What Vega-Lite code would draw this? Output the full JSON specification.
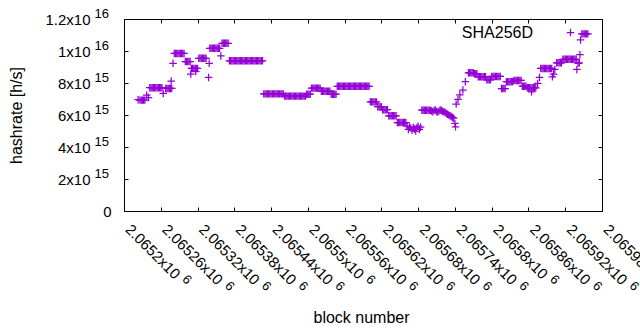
{
"$schema": "https://vega.github.io/schema/vega-lite/v6.json",
"width": 478, "height": 192,
"autosize": {"type": "none"},
"padding": {"left": 124, "top": 19, "right": 38, "bottom": 119},
"background": "white",
"config": {
  "view": {"stroke": null},
  "font": "Liberation Sans",
  "axis": {"grid": false, "labelColor": "#000000", "titleColor": "#000000", "domainColor": "#000000", "tickColor": "#000000", "labelFont": "Liberation Sans", "titleFont": "Liberation Sans", "titleFontWeight": "normal", "labelFlush": false, "labelOverlap": false, "labelBound": false, "domainWidth": 1, "tickWidth": 1}
},
"resolve": {"axis": {"x": "independent", "y": "independent"}},
"layer": [
{
"data": {"values": [
{"b":2065223,"h":6.96e15},{"b":2065226,"h":6.93e15},{"b":2065228,"h":6.93e15},{"b":2065230,"h":6.93e15},{"b":2065232,"h":6.93e15},{"b":2065234,"h":6.93e15},{"b":2065237,"h":7.24e15},{"b":2065240,"h":7.09e15},
{"b":2065242,"h":7.71e15},{"b":2065244,"h":7.71e15},{"b":2065246,"h":7.71e15},{"b":2065248,"h":7.71e15},{"b":2065250,"h":7.71e15},{"b":2065252,"h":7.71e15},{"b":2065254,"h":7.71e15},{"b":2065256,"h":7.71e15},{"b":2065258,"h":7.71e15},{"b":2065260,"h":7.71e15},{"b":2065262,"h":7.71e15},
{"b":2065264,"h":7.35e15},
{"b":2065268,"h":7.66e15},{"b":2065270,"h":7.66e15},{"b":2065272,"h":7.66e15},{"b":2065274,"h":7.66e15},{"b":2065276,"h":7.66e15},{"b":2065278,"h":7.66e15},
{"b":2065277,"h":8.12e15},{"b":2065280,"h":9.23e15},
{"b":2065282,"h":9.85e15},{"b":2065284,"h":9.85e15},{"b":2065286,"h":9.85e15},{"b":2065288,"h":9.85e15},{"b":2065290,"h":9.85e15},{"b":2065292,"h":9.85e15},{"b":2065294,"h":9.85e15},{"b":2065296,"h":9.85e15},{"b":2065298,"h":9.85e15},
{"b":2065300,"h":9.34e15},{"b":2065302,"h":9.34e15},{"b":2065304,"h":9.34e15},{"b":2065306,"h":9.34e15},{"b":2065308,"h":9.34e15},
{"b":2065309,"h":8.56e15},
{"b":2065310,"h":8.91e15},{"b":2065312,"h":8.91e15},{"b":2065314,"h":8.91e15},{"b":2065316,"h":8.91e15},{"b":2065318,"h":8.91e15},{"b":2065320,"h":8.91e15},{"b":2065317,"h":8.72e15},
{"b":2065322,"h":9.54e15},{"b":2065324,"h":9.54e15},{"b":2065326,"h":9.54e15},{"b":2065328,"h":9.54e15},{"b":2065330,"h":9.54e15},{"b":2065332,"h":9.54e15},{"b":2065334,"h":9.54e15},
{"b":2065338,"h":8.35e15},{"b":2065339,"h":9.23e15},
{"b":2065340,"h":1.017e16},{"b":2065342,"h":1.017e16},{"b":2065344,"h":1.017e16},{"b":2065346,"h":1.017e16},{"b":2065348,"h":1.017e16},{"b":2065350,"h":1.017e16},{"b":2065352,"h":1.017e16},{"b":2065354,"h":1.017e16},{"b":2065356,"h":1.017e16},
{"b":2065358,"h":9.69e15},
{"b":2065360,"h":1.048e16},{"b":2065362,"h":1.048e16},{"b":2065364,"h":1.048e16},{"b":2065366,"h":1.048e16},{"b":2065368,"h":1.048e16},{"b":2065370,"h":1.048e16},
{"b":2065372,"h":9.39e15},{"b":2065374,"h":9.39e15},{"b":2065376,"h":9.39e15},{"b":2065378,"h":9.39e15},{"b":2065380,"h":9.39e15},{"b":2065382,"h":9.39e15},{"b":2065384,"h":9.39e15},{"b":2065386,"h":9.39e15},{"b":2065388,"h":9.39e15},{"b":2065390,"h":9.39e15},{"b":2065392,"h":9.39e15},{"b":2065394,"h":9.39e15},{"b":2065396,"h":9.39e15},{"b":2065398,"h":9.39e15},{"b":2065400,"h":9.39e15},{"b":2065402,"h":9.39e15},{"b":2065404,"h":9.39e15},{"b":2065406,"h":9.39e15},{"b":2065408,"h":9.39e15},{"b":2065410,"h":9.39e15},{"b":2065412,"h":9.39e15},{"b":2065414,"h":9.39e15},{"b":2065416,"h":9.39e15},{"b":2065418,"h":9.39e15},{"b":2065420,"h":9.39e15},{"b":2065422,"h":9.39e15},{"b":2065424,"h":9.39e15},{"b":2065426,"h":9.39e15},
{"b":2065428,"h":7.32e15},{"b":2065430,"h":7.32e15},{"b":2065432,"h":7.32e15},{"b":2065434,"h":7.32e15},{"b":2065436,"h":7.32e15},{"b":2065438,"h":7.32e15},{"b":2065440,"h":7.32e15},{"b":2065442,"h":7.32e15},{"b":2065444,"h":7.32e15},{"b":2065446,"h":7.32e15},{"b":2065448,"h":7.32e15},{"b":2065450,"h":7.32e15},{"b":2065452,"h":7.32e15},{"b":2065454,"h":7.32e15},{"b":2065456,"h":7.32e15},{"b":2065458,"h":7.32e15},{"b":2065460,"h":7.32e15},
{"b":2065462,"h":7.18e15},{"b":2065464,"h":7.18e15},{"b":2065466,"h":7.18e15},{"b":2065468,"h":7.18e15},{"b":2065470,"h":7.18e15},{"b":2065472,"h":7.18e15},{"b":2065474,"h":7.18e15},{"b":2065476,"h":7.18e15},{"b":2065478,"h":7.18e15},{"b":2065480,"h":7.18e15},{"b":2065482,"h":7.18e15},{"b":2065484,"h":7.18e15},{"b":2065486,"h":7.18e15},{"b":2065488,"h":7.18e15},{"b":2065490,"h":7.18e15},{"b":2065492,"h":7.18e15},{"b":2065494,"h":7.18e15},{"b":2065496,"h":7.18e15},
{"b":2065498,"h":7.3e15},{"b":2065500,"h":7.3e15},{"b":2065502,"h":7.3e15},{"b":2065504,"h":7.3e15},
{"b":2065506,"h":7.68e15},{"b":2065508,"h":7.68e15},{"b":2065510,"h":7.68e15},{"b":2065512,"h":7.68e15},{"b":2065514,"h":7.68e15},{"b":2065516,"h":7.68e15},{"b":2065518,"h":7.68e15},{"b":2065520,"h":7.68e15},
{"b":2065522,"h":7.49e15},{"b":2065524,"h":7.49e15},{"b":2065526,"h":7.49e15},{"b":2065528,"h":7.49e15},{"b":2065530,"h":7.49e15},{"b":2065532,"h":7.49e15},{"b":2065534,"h":7.49e15},{"b":2065536,"h":7.49e15},
{"b":2065538,"h":7.3e15},{"b":2065540,"h":7.3e15},{"b":2065542,"h":7.3e15},{"b":2065544,"h":7.3e15},{"b":2065546,"h":7.3e15},
{"b":2065548,"h":7.79e15},{"b":2065550,"h":7.79e15},{"b":2065552,"h":7.79e15},{"b":2065554,"h":7.79e15},{"b":2065556,"h":7.79e15},{"b":2065558,"h":7.79e15},{"b":2065560,"h":7.79e15},{"b":2065562,"h":7.79e15},{"b":2065564,"h":7.79e15},{"b":2065566,"h":7.79e15},{"b":2065568,"h":7.79e15},{"b":2065570,"h":7.79e15},{"b":2065572,"h":7.79e15},{"b":2065574,"h":7.79e15},{"b":2065576,"h":7.79e15},{"b":2065578,"h":7.79e15},{"b":2065580,"h":7.79e15},{"b":2065582,"h":7.79e15},{"b":2065584,"h":7.79e15},{"b":2065586,"h":7.79e15},{"b":2065588,"h":7.79e15},{"b":2065590,"h":7.79e15},{"b":2065592,"h":7.79e15},{"b":2065594,"h":7.79e15},{"b":2065596,"h":7.79e15},{"b":2065598,"h":7.79e15},{"b":2065600,"h":7.79e15},
{"b":2065602,"h":6.82e15},{"b":2065604,"h":6.82e15},{"b":2065606,"h":6.82e15},{"b":2065608,"h":6.82e15},{"b":2065610,"h":6.82e15},{"b":2065612,"h":6.82e15},
{"b":2065614,"h":6.52e15},{"b":2065616,"h":6.52e15},{"b":2065618,"h":6.52e15},{"b":2065620,"h":6.52e15},
{"b":2065622,"h":6.33e15},{"b":2065624,"h":6.33e15},{"b":2065626,"h":6.33e15},{"b":2065628,"h":6.33e15},{"b":2065630,"h":6.33e15},
{"b":2065632,"h":5.95e15},{"b":2065634,"h":5.95e15},{"b":2065636,"h":5.95e15},{"b":2065638,"h":5.95e15},{"b":2065640,"h":5.95e15},{"b":2065642,"h":5.95e15},{"b":2065644,"h":5.95e15},
{"b":2065646,"h":5.53e15},{"b":2065648,"h":5.53e15},{"b":2065650,"h":5.53e15},{"b":2065652,"h":5.53e15},{"b":2065654,"h":5.53e15},{"b":2065656,"h":5.53e15},{"b":2065658,"h":5.53e15},{"b":2065660,"h":5.53e15},
{"b":2065662,"h":5.3e15},{"b":2065664,"h":5.1e15},{"b":2065666,"h":5.25e15},{"b":2065668,"h":5.18e15},{"b":2065670,"h":5.05e15},{"b":2065672,"h":5.22e15},{"b":2065674,"h":5.12e15},{"b":2065676,"h":5.0e15},{"b":2065678,"h":5.2e15},{"b":2065680,"h":5.3e15},{"b":2065682,"h":5.1e15},{"b":2065684,"h":5.24e15},
{"b":2065686,"h":6.3e15},{"b":2065688,"h":6.3e15},{"b":2065690,"h":6.3e15},{"b":2065692,"h":6.3e15},{"b":2065694,"h":6.3e15},{"b":2065696,"h":6.3e15},{"b":2065698,"h":6.3e15},
{"b":2065700,"h":6.3e15},{"b":2065702,"h":6.25e15},{"b":2065704,"h":6.2e15},{"b":2065706,"h":6.28e15},{"b":2065708,"h":6.32e15},{"b":2065710,"h":6.22e15},{"b":2065712,"h":6.18e15},{"b":2065714,"h":6.25e15},{"b":2065716,"h":6.3e15},{"b":2065718,"h":6.3e15},{"b":2065720,"h":6.22e15},{"b":2065722,"h":6.2e15},{"b":2065724,"h":6.15e15},
{"b":2065726,"h":6.1e15},{"b":2065728,"h":6.05e15},{"b":2065730,"h":6.0e15},{"b":2065732,"h":5.95e15},{"b":2065734,"h":5.9e15},{"b":2065736,"h":5.85e15},{"b":2065738,"h":5.8e15},
{"b":2065740,"h":5.47e15},{"b":2065741,"h":5.26e15},{"b":2065742,"h":6.68e15},{"b":2065745,"h":6.97e15},{"b":2065748,"h":7.26e15},{"b":2065753,"h":7.56e15},{"b":2065757,"h":8.08e15},
{"b":2065762,"h":8.64e15},{"b":2065764,"h":8.64e15},{"b":2065766,"h":8.64e15},{"b":2065768,"h":8.64e15},{"b":2065770,"h":8.64e15},
{"b":2065772,"h":8.58e15},{"b":2065774,"h":8.58e15},{"b":2065776,"h":8.58e15},
{"b":2065778,"h":8.39e15},{"b":2065780,"h":8.39e15},{"b":2065782,"h":8.39e15},{"b":2065784,"h":8.39e15},{"b":2065786,"h":8.39e15},{"b":2065788,"h":8.39e15},{"b":2065790,"h":8.39e15},
{"b":2065792,"h":8.2e15},{"b":2065794,"h":8.2e15},{"b":2065796,"h":8.2e15},{"b":2065798,"h":8.2e15},
{"b":2065800,"h":8.41e15},{"b":2065802,"h":8.41e15},{"b":2065804,"h":8.41e15},{"b":2065806,"h":8.41e15},{"b":2065808,"h":8.41e15},{"b":2065810,"h":8.41e15},{"b":2065812,"h":8.41e15},{"b":2065814,"h":8.41e15},
{"b":2065816,"h":7.65e15},{"b":2065818,"h":7.65e15},{"b":2065820,"h":7.65e15},{"b":2065822,"h":7.65e15},
{"b":2065824,"h":8.08e15},{"b":2065826,"h":8.08e15},{"b":2065828,"h":8.08e15},{"b":2065830,"h":8.08e15},{"b":2065832,"h":8.08e15},{"b":2065834,"h":8.08e15},
{"b":2065836,"h":8.16e15},{"b":2065838,"h":8.16e15},{"b":2065840,"h":8.16e15},{"b":2065842,"h":8.16e15},{"b":2065844,"h":8.16e15},{"b":2065846,"h":8.16e15},{"b":2065848,"h":8.16e15},
{"b":2065850,"h":7.8e15},{"b":2065852,"h":7.8e15},{"b":2065854,"h":7.8e15},{"b":2065856,"h":7.8e15},
{"b":2065858,"h":7.7e15},{"b":2065860,"h":7.7e15},{"b":2065862,"h":7.7e15},{"b":2065864,"h":7.7e15},{"b":2065866,"h":7.7e15},{"b":2065868,"h":7.7e15},{"b":2065870,"h":7.7e15},{"b":2065872,"h":7.7e15},
{"b":2065865,"h":7.45e15},{"b":2065875,"h":7.97e15},{"b":2065878,"h":8.35e15},
{"b":2065880,"h":8.91e15},{"b":2065882,"h":8.91e15},{"b":2065884,"h":8.91e15},{"b":2065886,"h":8.91e15},{"b":2065888,"h":8.91e15},{"b":2065890,"h":8.91e15},{"b":2065892,"h":8.91e15},{"b":2065894,"h":8.91e15},{"b":2065896,"h":8.91e15},{"b":2065898,"h":8.91e15},
{"b":2065899,"h":8.39e15},{"b":2065901,"h":8.56e15},{"b":2065903,"h":8.85e15},
{"b":2065906,"h":9.26e15},{"b":2065908,"h":9.26e15},{"b":2065910,"h":9.26e15},{"b":2065912,"h":9.26e15},{"b":2065914,"h":9.26e15},
{"b":2065916,"h":9.48e15},{"b":2065918,"h":9.48e15},{"b":2065920,"h":9.48e15},{"b":2065922,"h":9.48e15},{"b":2065924,"h":9.48e15},{"b":2065926,"h":9.48e15},{"b":2065928,"h":9.48e15},{"b":2065930,"h":9.48e15},{"b":2065932,"h":9.48e15},{"b":2065934,"h":9.48e15},{"b":2065936,"h":9.48e15},{"b":2065938,"h":9.48e15},
{"b":2065939,"h":8.85e15},{"b":2065941,"h":9.23e15},{"b":2065943,"h":9.26e15},{"b":2065944,"h":9.77e15},{"b":2065945,"h":1.069e16},
{"b":2065947,"h":1.107e16},{"b":2065949,"h":1.107e16},{"b":2065951,"h":1.107e16},{"b":2065953,"h":1.107e16},{"b":2065955,"h":1.107e16},{"b":2065957,"h":1.107e16}
]},
"mark": {"type": "point", "shape": "M-1,0H1M0,-1V1", "filled": false, "size": 56, "strokeWidth": 1.25, "opacity": 1},
"encoding": {
  "x": {"field": "b", "type": "quantitative", "scale": {"domain": [2065200, 2065980], "nice": false, "zero": false},
        "axis": {"orient": "bottom", "values": [2065200,2065260,2065320,2065380,2065440,2065500,2065560,2065620,2065680,2065740,2065800,2065860,2065920,2065980], "labelExpr": "datum.value/1000000 + 'x10'", "labelAngle": 45, "labelAlign": "left", "labelBaseline": "alphabetic", "labelPadding": 19, "labelFontSize": 15, "ticks": false, "domain": false, "title": "block number", "titleFontSize": 16, "titleX": 237, "titleY": 111, "titleBaseline": "alphabetic", "titleAlign": "center"}},
  "y": {"field": "h", "type": "quantitative", "scale": {"domain": [0, 1.2e16], "nice": false, "zero": true},
        "axis": {"orient": "left", "values": [2e15,4e15,6e15,8e15,1e16,1.2e16], "labelExpr": "datum.value >= 1e16 ? (datum.value/1e16) + 'x10' : (datum.value/1e15) + 'x10'", "labelAlign": "right", "labelBaseline": "middle", "labelPadding": 34, "labelFontSize": 15, "ticks": false, "domain": false, "title": "hashrate [h/s]", "titleFontSize": 16, "titleX": -103, "titleY": 96, "titleBaseline": "alphabetic", "titleAngle": -90, "titleAlign": "center"}},
  "color": {"datum": "SHA256D", "type": "nominal", "scale": {"range": ["#9400d3"]},
        "legend": {"orient": "none", "legendX": 438.5, "legendY": 5.5, "title": null, "padding": 0, "labelFont": "Liberation Sans", "labelFontSize": 16, "labelColor": "#000000", "labelAlign": "right", "labelOffset": -45.5, "symbolType": "M-1,0H1M0,-1V1", "symbolSize": 56, "symbolStrokeWidth": 1.25, "symbolFillColor": "transparent", "symbolStrokeColor": "#9400d3"}}
}
},
{
"data": {"values": [{"b": 2065200, "h": 0}]},
"mark": {"type": "point", "opacity": 0},
"encoding": {
  "x": {"field": "b", "type": "quantitative", "scale": {"domain": [2065200, 2065980], "nice": false, "zero": false},
        "axis": {"orient": "top", "values": [2065200,2065260,2065320,2065380,2065440,2065500,2065560,2065620,2065680,2065740,2065800,2065860,2065920,2065980], "labels": false, "tickSize": -4, "domain": true, "title": null}},
  "y": {"field": "h", "type": "quantitative", "scale": {"domain": [0, 1.2e16], "nice": false, "zero": true},
        "axis": {"orient": "right", "values": [0,2e15,4e15,6e15,8e15,1e16,1.2e16], "labels": false, "tickSize": -4, "domain": true, "title": null}}
}
},
{
"data": {"values": [{"b": 2065200, "h": 0}]},
"mark": {"type": "point", "opacity": 0},
"encoding": {
  "x": {"field": "b", "type": "quantitative", "scale": {"domain": [2065200, 2065980], "nice": false, "zero": false},
        "axis": {"orient": "bottom", "values": [2065200,2065260,2065320,2065380,2065440,2065500,2065560,2065620,2065680,2065740,2065800,2065860,2065920,2065980], "labels": false, "tickSize": -4, "domain": true, "title": null}},
  "y": {"field": "h", "type": "quantitative", "scale": {"domain": [0, 1.2e16], "nice": false, "zero": true},
        "axis": {"orient": "left", "values": [0,2e15,4e15,6e15,8e15,1e16,1.2e16], "labels": false, "tickSize": -4, "domain": true, "title": null}}
}
},
{
"data": {"values": [{"b": 2065200, "h": 0}]},
"mark": {"type": "point", "opacity": 0},
"encoding": {
  "x": {"field": "b", "type": "quantitative", "scale": {"domain": [2065200, 2065980], "nice": false, "zero": false},
        "axis": {"orient": "bottom", "values": [2065200,2065500,2065800], "labelExpr": "'6'", "labelAngle": 45, "labelAlign": "left", "labelBaseline": "alphabetic", "labelFontSize": 13, "labelPadding": 68.5, "labelOffset": 57, "ticks": false, "domain": false, "title": null}},
  "y": {"field": "h", "type": "quantitative", "scale": {"domain": [0, 1.2e16], "nice": false, "zero": true},
        "axis": {"orient": "left", "values": [0], "labelExpr": "'0'", "labelAlign": "right", "labelBaseline": "middle", "labelPadding": 13, "labelFontSize": 15, "ticks": false, "domain": false, "title": null}}
}
},
{
"data": {"values": [{"b": 2065200, "h": 0}]},
"mark": {"type": "point", "opacity": 0},
"encoding": {
  "x": {"field": "b", "type": "quantitative", "scale": {"domain": [2065200, 2065980], "nice": false, "zero": false},
        "axis": {"orient": "bottom", "values": [2065260,2065320,2065380,2065440,2065560,2065620,2065680,2065740,2065860,2065920,2065980], "labelExpr": "'6'", "labelAngle": 45, "labelAlign": "left", "labelBaseline": "alphabetic", "labelFontSize": 13, "labelPadding": 75, "labelOffset": 63, "ticks": false, "domain": false, "title": null}},
  "y": {"field": "h", "type": "quantitative", "scale": {"domain": [0, 1.2e16], "nice": false, "zero": true},
        "axis": {"orient": "left", "values": [2e15,4e15,6e15,8e15,1e16,1.2e16], "labelExpr": "datum.value >= 1e16 ? '16' : '15'", "labelAlign": "left", "labelBaseline": "middle", "labelPadding": 30, "labelOffset": -6, "labelFontSize": 13, "ticks": false, "domain": false, "title": null}}
}
}
]
}
